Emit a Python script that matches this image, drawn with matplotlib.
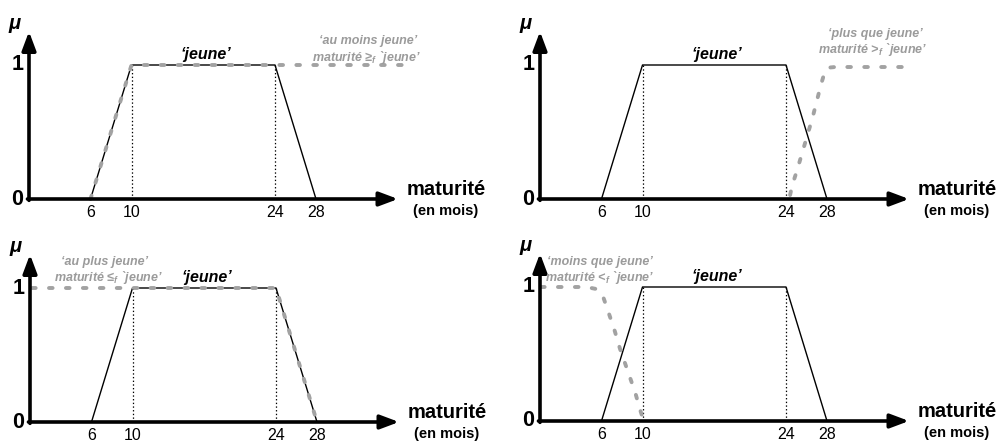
import matplotlib
matplotlib.use('Agg')
import matplotlib.pyplot as plt

plt.rcParams['font.family'] = ['Liberation Sans', 'DejaVu Sans']
plt.rcParams['mathtext.fontset'] = 'custom'
plt.rcParams['mathtext.it'] = 'Liberation Sans:italic:bold'
plt.rcParams['mathtext.rm'] = 'Liberation Sans:bold'
plt.rcParams['mathtext.bf'] = 'Liberation Sans:bold'
plt.rcParams['lines.scale_dashes'] = False

# ---------------- data ----------------
tick_values = [6, 10, 24, 28]
tick_labels = ['6', '10', '24', '28']

jeune_x = [6, 10, 24, 28]
jeune_y = [0, 1, 1, 0]

au_moins_x = [6, 10, 36.8]
au_moins_y = [0, 1, 1]

plus_que_x = [24.4, 24.6, 25.1, 25.6, 26.1, 26.6, 27.0, 27.4, 27.75, 28.1, 28.8, 36.1]
plus_que_y = [0.03, 0.10, 0.22, 0.35, 0.48, 0.61, 0.73, 0.85, 0.94, 0.98, 0.985, 0.985]

au_plus_x = [0.2, 10, 24, 28]
au_plus_y = [1, 1, 1, 0]

moins_que_x = [0.1, 4.5, 5.5, 6.1, 6.6, 7.3, 7.8, 8.3, 8.8, 9.3, 9.7, 9.95]
moins_que_y = [1, 1, 0.985, 0.94, 0.83, 0.67, 0.54, 0.43, 0.32, 0.21, 0.10, 0.04]

labels_top = ["‘au moins jeune’", "‘plus que jeune’", "‘au plus jeune’", "‘moins que jeune’"]
labels_bot = ["maturité ≥$_f$ `jeune’", "maturité >$_f$ `jeune’",
              "maturité ≤$_f$ `jeune’", "maturité <$_f$ `jeune’"]
curves = [(au_moins_x, au_moins_y), (plus_que_x, plus_que_y),
          (au_plus_x, au_plus_y), (moins_que_x, moins_que_y)]

# ---------------- layout ----------------
W, H = 1001, 441
SX, SY = 10.25, 134.0
# region (x0, y0, x1, y1) in pixels, origin (ox, oy), label centers (line1, line2)
panels = [
    dict(region=(0, 0, 500, 220), origin=(29, 199), lab1=(368, 41), lab2=(366, 57)),
    dict(region=(500, 0, 1001, 220), origin=(540, 199), lab1=(875, 34), lab2=(873, 50)),
    dict(region=(0, 220, 500, 441), origin=(30, 422), lab1=(105, 262), lab2=(108, 277)),
    dict(region=(500, 220, 1001, 441), origin=(540, 421), lab1=(600, 262), lab2=(600, 277)),
]

GREY_LINE = '#a2a2a2'
GREY_TEXT = '#9b9b9b'

fig = plt.figure(figsize=(W / 100, H / 100), dpi=100)
fig.patch.set_facecolor('white')

for i, p in enumerate(panels):
    x0, y0, x1, y1 = p['region']
    ox, oy = p['origin']
    ax = fig.add_axes([x0 / W, 1 - y1 / H, (x1 - x0) / W, (y1 - y0) / H])
    ax.set_xlim((x0 - ox) / SX, (x1 - ox) / SX)
    ax.set_ylim((oy - y1) / SY, (oy - y0) / SY)
    ax.axis('off')

    arrow = dict(arrowstyle='-|>,head_length=0.8,head_width=0.3', lw=2.6,
                 color='black', mutation_scale=14, shrinkA=0, shrinkB=0)
    ax.annotate('', xy=(36.0, 0), xytext=(-0.15, 0), arrowprops=arrow,
                annotation_clip=False, zorder=5)
    ax.annotate('', xy=(0, 1.25), xytext=(0, -0.01), arrowprops=arrow,
                annotation_clip=False, zorder=5)

    # trapezoid 'jeune'
    ax.plot(jeune_x, jeune_y, color='black', lw=1.0, zorder=3, clip_on=False)
    ax.vlines([jeune_x[1], jeune_x[2]], 0, 1, colors='black', linestyles=':',
              lw=0.9, zorder=2)

    # grey modified curve
    cx, cy = curves[i]
    ax.plot(cx, cy, color=GREY_LINE, lw=2.8, linestyle=(0, (2.6, 9.6)),
            dash_capstyle='round', zorder=4, clip_on=False)

    # tick labels
    for t, lab in zip(tick_values, tick_labels):
        ax.text(t, -0.1, lab, ha='center', va='center', fontsize=11.5)

    ax.text(-0.55, 1, '1', ha='right', va='center', fontsize=15.5, fontweight='bold')
    ax.text(-0.55, 0, '0', ha='right', va='center', fontsize=15.5, fontweight='bold')
    ax.text(-1.4, 1.31, 'μ', ha='center', va='center', fontsize=14.5,
            fontweight='bold', fontstyle='italic')
    ax.text(40.7, 0.07, 'maturité', ha='center', va='center', fontsize=14.5,
            fontweight='bold')
    ax.text(40.6, -0.09, '(en mois)', ha='center', va='center', fontsize=10.5,
            fontweight='bold')
    ax.text(17.3, 1.075, '‘jeune’', ha='center', va='center', fontsize=11.5,
            fontweight='bold', fontstyle='italic')

    lx, ly = p['lab1']
    fig.text(lx / W, 1 - ly / H, labels_top[i], ha='center', va='center',
             fontsize=9, fontweight='bold', fontstyle='italic', color=GREY_TEXT)
    lx, ly = p['lab2']
    fig.text(lx / W, 1 - ly / H, labels_bot[i], ha='center', va='center',
             fontsize=9, fontweight='bold', fontstyle='italic', color=GREY_TEXT)

fig.savefig('out.png', dpi=100, facecolor='white')
